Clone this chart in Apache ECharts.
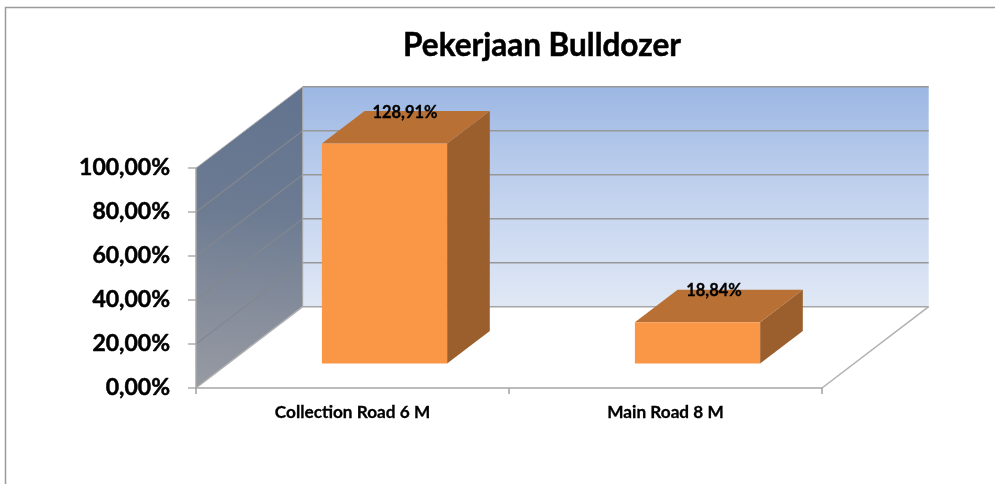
<!DOCTYPE html>
<html>
<head>
<meta charset="utf-8">
<style>html,body{margin:0;padding:0;background:#fff}#c{width:995px;height:484px}</style>
<script src="https://cdn.jsdelivr.net/npm/echarts@6/dist/echarts.min.js"></script>
</head>
<body>
<div id="c"></div>
<script>
const categories = ['Collection Road 6 M', 'Main Road 8 M'];
const values = [128.91, 18.84];
const yTicks = [0, 20, 40, 60, 80, 100];
const titleText = 'Pekerjaan Bulldozer';

const FONT = 'Lato';
const AXIS_MAX = 100;
const DEPTH_X = 106.7, DEPTH_Y = 81.3;
const BAR_NEAR = 0.3, BAR_FAR = 0.7, BAR_WIDTH = 0.4;
const LABEL_SHIFT = [20.5, 16.5];
const pct = v => v.toFixed(2).replace('.', ',') + '%';
const poly = (points, fill, z2, stroke) => ({
  type: 'polygon', z2: z2 || 0, shape: { points },
  style: { fill, stroke: stroke || 'none', lineWidth: stroke ? 1 : 0 }
});
const line = (a, b, stroke, w, z2) => ({
  type: 'line', z2: z2 || 1,
  shape: { x1: a[0], y1: a[1], x2: b[0], y2: b[1] },
  style: { stroke, lineWidth: w || 1.5 }
});
const grad = (stops, x, y, x2, y2) => ({
  type: 'linear', x, y, x2, y2,
  colorStops: stops.map(([offset, color]) => ({ offset, color }))
});

function renderScene(params, api) {
  const band = api.size([1, 0])[0];
  const x0 = api.coord([0, 0])[0] - band / 2;
  const x1 = x0 + band * categories.length;
  const yAt = v => api.coord([0, v])[1];
  const y0 = yAt(0), yTop = yAt(AXIS_MAX);
  const back = (x, y) => [x + DEPTH_X, y - DEPTH_Y];
  const children = [
    poly([back(x0, yTop), back(x1, yTop), back(x1, y0), back(x0, y0)],
      grad([[0, '#9cb7e4'], [0.5, '#c3d3ee'], [1, '#e0e8f5']], 0, 0, 0, 1)),
    poly([[x0, yTop], back(x0, yTop), back(x0, y0), [x0, y0]],
      grad([[0, '#62738f'], [0.4, '#6c7b92'], [0.75, '#878e9c'], [1, '#979aa2']], 0.25, 0, 0.05, 1))
  ];
  yTicks.forEach(t => {
    const y = yAt(t);
    children.push(line(back(x0, y), back(x1, y), t === 0 ? '#a6a6a6' : '#979797', 1.5));
    if (t > 0 && t < AXIS_MAX) {
      children.push(line([x0, y], back(x0, y), '#83878e', 1.2));
    }
    children.push(line([x0 - 8, y], [x0, y], '#9a9a9a', 1.2));
  });
  children.push(line([x0, yTop], back(x0, yTop), '#b4b4b4', 1));
  children.push(line([x0, y0], back(x0, y0), '#b0b0b0', 1.5));
  children.push(line([x1, y0], back(x1, y0), '#b0b0b0', 1.5));
  children.push(line(back(x0, yTop), back(x0, y0), '#a8a8a8', 1));
  for (let i = 0; i <= categories.length; i++) {
    const x = x0 + band * i;
    children.push(line([x, y0], [x, y0 + 6], '#a0a0a0', 1.5));
  }
  return { type: 'group', children };
}

function renderBar(params, api) {
  const i = api.value(0), raw = api.value(1);
  const shown = Math.min(raw, AXIS_MAX);
  const band = api.size([1, 0])[0];
  const c = api.coord([i, 0])[0];
  const half = band * BAR_WIDTH / 2;
  const nx = DEPTH_X * BAR_NEAR, ny = DEPTH_Y * BAR_NEAR;
  const fx = DEPTH_X * BAR_FAR, fy = DEPTH_Y * BAR_FAR;
  const yb = api.coord([i, 0])[1], yt = api.coord([i, shown])[1];
  const l = c - half, r = c + half;
  return {
    type: 'group',
    children: [
      poly([[r + nx, yb - ny], [r + fx, yb - fy], [r + fx, yt - fy], [r + nx, yt - ny]], '#9a5f2c', 1),
      poly([[l + nx, yt - ny], [r + nx, yt - ny], [r + fx, yt - fy], [l + fx, yt - fy]], '#b97034', 1),
      poly([[l + nx, yb - ny], [r + nx, yb - ny], [r + nx, yt - ny], [l + nx, yt - ny]], '#fa9746', 2),
      {
        type: 'text', z2: 5,
        x: c + nx + LABEL_SHIFT[i], y: yt - fy + 1.5,
        style: {
          text: pct(raw), fill: '#000', align: 'center', verticalAlign: 'middle',
          font: `bold 16.5px ${FONT}`, stroke: '#000', lineWidth: 0.3
        }
      }
    ]
  };
}

const chart = echarts.init(document.getElementById('c'), null, { renderer: 'canvas' });
chart.setOption({
  animation: false,
  backgroundColor: '#fff',
  title: {
    text: titleText, left: 537, top: 25, textAlign: 'center',
    textStyle: { fontFamily: FONT, fontWeight: 'bold', fontSize: 31.5, color: '#000', textBorderColor: '#000', textBorderWidth: 0.5 }
  },
  graphic: [
    { type: 'line', z: 0, shape: { x1: 5.5, y1: 7, x2: 5.5, y2: 484 }, style: { stroke: '#9a9a9a', lineWidth: 1.5 } },
    { type: 'line', z: 0, shape: { x1: 5, y1: 7.5, x2: 995, y2: 7.5 }, style: { stroke: '#9a9a9a', lineWidth: 1.5 } }
  ],
  grid: { left: 196, top: 168, width: 626, height: 220 },
  xAxis: {
    type: 'category', data: categories, z: 3,
    axisLine: { lineStyle: { color: '#a6a6a6', width: 1.5 } },
    axisTick: { show: false },
    axisLabel: { fontFamily: FONT, fontWeight: 'bold', fontSize: 17.2, color: '#000', margin: 16, textBorderColor: '#000', textBorderWidth: 0.3 }
  },
  yAxis: {
    type: 'value', min: 0, max: AXIS_MAX, interval: 20, z: 3,
    axisLine: { show: true, lineStyle: { color: '#a6a6a6', width: 1.5 } },
    axisTick: { show: false },
    splitLine: { show: false },
    axisLabel: { fontFamily: FONT, fontWeight: 'bold', fontSize: 23, color: '#000', margin: 26, padding: [7, 0, 0, 0], textBorderColor: '#000', textBorderWidth: 0.5, formatter: v => pct(v) }
  },
  series: [
    { type: 'custom', name: 'scene', z: 1, silent: true, clip: false, renderItem: renderScene, data: [[0, 0]], encode: { x: 0, y: 1 } },
    { type: 'custom', name: 'Pekerjaan', z: 2, clip: false, renderItem: renderBar,
      data: values.map((v, i) => [i, v]), encode: { x: 0, y: 1 } }
  ]
});
</script>
</body>
</html>
